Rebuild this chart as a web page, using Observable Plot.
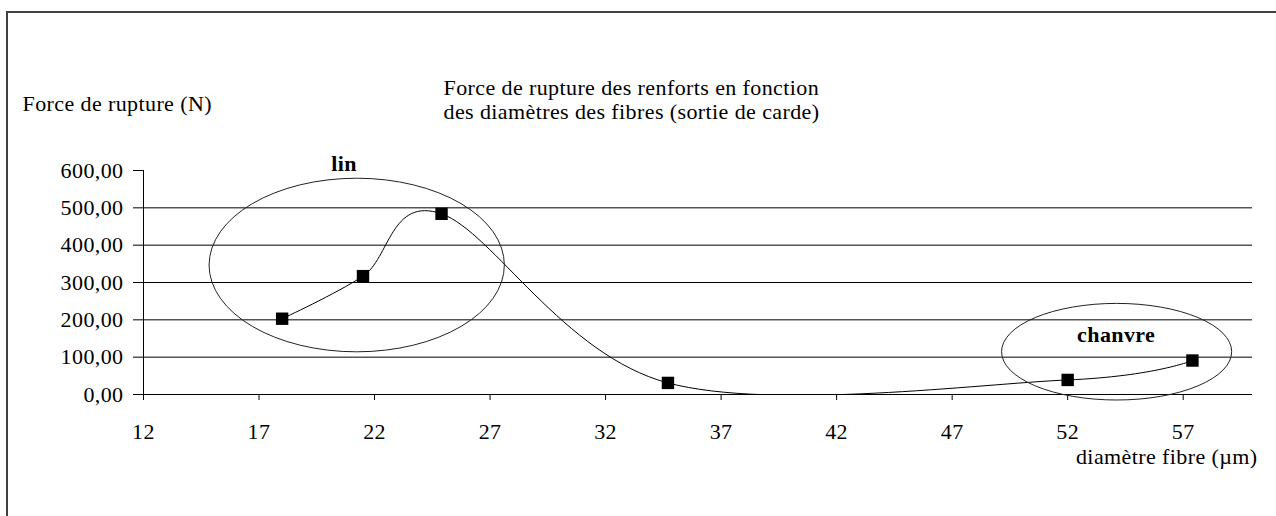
<!DOCTYPE html>
<html><head><meta charset="utf-8">
<script src="https://cdn.jsdelivr.net/npm/d3@7"></script>
<script src="https://cdn.jsdelivr.net/npm/@observablehq/plot@0.6"></script>
<style>
html,body{margin:0;padding:0;background:#fff;overflow:hidden;width:1276px;height:516px;}
#frame{position:absolute;left:6px;top:11px;width:1400px;height:700px;border:2px solid #404040;}
#chart{position:absolute;left:0;top:0;}
</style></head><body><div id="frame"></div><div id="chart"></div>
<script>
// Data
const diametre = [18.0, 21.5, 24.9, 34.7, 52.0, 57.4];
const force = [203, 317, 484, 31, 39, 91];
const xTicks = [12, 17, 22, 27, 32, 37, 42, 47, 52, 57];
const yTicks = [0, 100, 200, 300, 400, 500, 600];
const gridValues = [100, 200, 300, 400, 500];
// Group annotations (labels + enclosing ellipses), in data units
const groupNames = ["lin", "chanvre"];
const groupLabelX = [20.68, 54.1];
const groupLabelY = [600, 140];
const ellipseCx = [21.25, 54.14];
const ellipseCy = [345.5, 113.3];
const ellipseRx = [6.39, 4.98];
const ellipseRy = [232.5, 129.4];
const titleLines = ["Force de rupture des renforts en fonction", "des diamètres des fibres (sortie de carde)"];
const yLabel = "Force de rupture (N)";
const xLabel = "diamètre fibre (µm)";

const points = diametre.map((d, i) => ({d, f: force[i]}));

function ellipses(index, scales) {
  const {x, y} = scales;
  const g = d3.create("svg:g").attr("fill", "none").attr("stroke", "#222").attr("stroke-width", 1);
  groupNames.forEach((_, i) => {
    const cx = x(ellipseCx[i]), cy = y(ellipseCy[i]);
    g.append("ellipse")
      .attr("cx", cx).attr("cy", cy)
      .attr("rx", x(ellipseCx[i] + ellipseRx[i]) - cx)
      .attr("ry", cy - y(ellipseCy[i] + ellipseRy[i]));
  });
  return g.node();
}

const chart = Plot.plot({
  width: 1276,
  height: 516,
  marginLeft: 143,
  marginRight: 24,
  marginTop: 170,
  marginBottom: 122,
  style: {fontFamily: "'Liberation Serif', 'Times New Roman', serif", fontSize: "22px", letterSpacing: "0.4px", color: "black", background: "none", overflow: "visible"},
  x: {domain: [12, 60], ticks: xTicks, tickSize: 6, tickPadding: 23, tickFormat: d => String(d), label: null},
  y: {domain: [0, 600], ticks: yTicks, tickSize: 10, tickPadding: 10, tickFormat: d => d.toFixed(2).replace(".", ","), label: null},
  marks: [
    Plot.ruleY(gridValues, {stroke: "black", strokeWidth: 1}),
    Plot.ruleY([0], {stroke: "black", strokeWidth: 1}),
    Plot.ruleX([12], {y1: 0, y2: 600, stroke: "black", strokeWidth: 1}),
    Plot.line(points, {x: "d", y: "f", curve: "cardinal", stroke: "black", strokeWidth: 1, clip: true}),
    Plot.dot(points, {x: "d", y: "f", symbol: "square", r: 7, fill: "black", stroke: "none"}),
    ellipses,
    Plot.text(groupNames, {x: (d, i) => groupLabelX[i], y: (d, i) => groupLabelY[i], text: d => d, fontWeight: "bold", lineAnchor: "bottom", textAnchor: "middle"}),
    Plot.text([titleLines.join("\n")], {frameAnchor: "top-left", text: d => d, textAnchor: "start", lineAnchor: "bottom", lineHeight: 1.12, dx: 300, dy: -51.3}),
    Plot.text([yLabel], {frameAnchor: "top-left", text: d => d, textAnchor: "start", lineAnchor: "bottom", dx: -121, dy: -60}),
    Plot.text([xLabel], {frameAnchor: "bottom-right", text: d => d, textAnchor: "end", lineAnchor: "bottom", dx: 5, dy: 69})
  ]
});
document.getElementById("chart").appendChild(chart);
</script></body></html>
